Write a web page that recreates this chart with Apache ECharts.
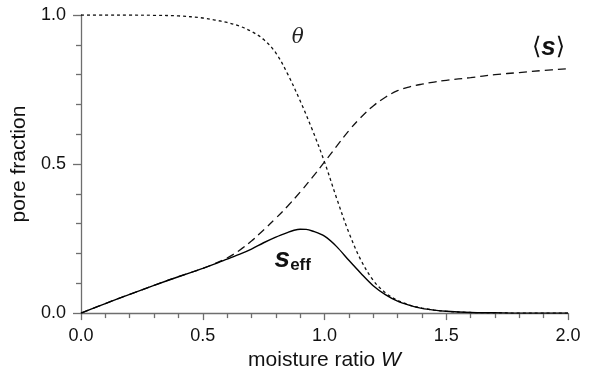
<!DOCTYPE html>
<html><head><meta charset="utf-8">
<script src="https://cdn.jsdelivr.net/npm/echarts@6/dist/echarts.min.js"></script>
<style>html,body{margin:0;padding:0;background:#fff}#c{width:590px;height:376px}</style>
</head><body><div id="c"></div>
<script>
var xTheta = [0,0.1,0.2,0.3,0.4,0.5,0.55,0.6,0.65,0.7,0.75,0.8,0.85,0.9,0.95,1.0,1.05,1.1,1.15,1.2,1.25,1.3,1.35,1.4,1.45,1.5,1.6,1.7,1.8,1.9,2.0];
var theta  = [1,1,1,0.999,0.997,0.99,0.983,0.975,0.963,0.945,0.918,0.873,0.80,0.712,0.615,0.507,0.385,0.27,0.177,0.11,0.068,0.043,0.027,0.017,0.010,0.006,0.002,0.001,0,0,0];
var xS = [0,0.05,0.1,0.15,0.2,0.25,0.3,0.35,0.4,0.45,0.5,0.55,0.6,0.65,0.7,0.75,0.8,0.85,0.9,0.95,1.0,1.05,1.1,1.15,1.2,1.25,1.3,1.35,1.4,1.45,1.5,1.6,1.7,1.8,1.9,2.0];
var sMean = [0,0.016,0.032,0.048,0.063,0.078,0.093,0.108,0.122,0.136,0.15,0.166,0.185,0.21,0.242,0.279,0.318,0.36,0.406,0.455,0.507,0.56,0.612,0.657,0.695,0.724,0.746,0.759,0.768,0.775,0.781,0.79,0.80,0.807,0.814,0.82];
var xEff = [0,0.1,0.2,0.3,0.4,0.5,0.55,0.6,0.65,0.7,0.75,0.8,0.85,0.875,0.9,0.925,0.95,1.0,1.05,1.1,1.15,1.2,1.25,1.3,1.35,1.4,1.45,1.5,1.6,1.7,1.8,1.9,2.0];
var sEff = [0,0.032,0.063,0.093,0.122,0.15,0.165,0.181,0.197,0.215,0.236,0.255,0.271,0.278,0.2815,0.281,0.2755,0.258,0.223,0.177,0.133,0.092,0.062,0.040,0.026,0.016,0.010,0.006,0.002,0.001,0,0,0];
var xTicks = ['0.0','0.5','1.0','1.5','2.0'];
var yTicks = ['0.0','0.5','1.0'];
var labels = [
  {name:'theta', x:0.89, y:0.925},
  {name:'smean', x:1.92, y:0.89},
  {name:'seff', x:0.795, y:0.18}
];

function pairs(xs, ys){ return xs.map(function(x,i){return [x, ys[i]];}); }
var FONT = '"Liberation Sans", Arial, sans-serif';
var axisCol = '#6e6e6e';
var chart = echarts.init(document.getElementById('c'));
chart.setOption({
  animation:false,
  backgroundColor:'#fff',
  grid:{left:81, right:22, top:15, bottom:59, containLabel:false},
  xAxis:{type:'value', min:0, max:2, interval:0.5,
    name:'moisture ratio {i|W}', nameLocation:'middle', nameGap:32,
    nameTextStyle:{fontFamily:FONT, fontSize:21, color:'#111', rich:{i:{fontFamily:FONT,fontSize:21,fontStyle:'italic',color:'#111'}}},
    axisLine:{lineStyle:{color:axisCol, width:1.3}},
    axisTick:{length:7, lineStyle:{color:axisCol, width:1.3}},
    minorTick:{show:true, splitNumber:5, length:5, lineStyle:{color:axisCol, width:1.3}},
    splitLine:{show:false},
    axisLabel:{fontFamily:FONT, fontSize:18, color:'#111', margin:14,
      formatter:function(v){ var i = Math.round(v/0.5); return xTicks[i]; }}
  },
  yAxis:{type:'value', min:0, max:1, interval:0.5,
    name:'pore fraction', nameLocation:'middle', nameGap:47,
    nameTextStyle:{fontFamily:FONT, fontSize:21, color:'#111'},
    axisLine:{show:true, lineStyle:{color:axisCol, width:1.3}},
    axisTick:{show:true, length:8, lineStyle:{color:axisCol, width:1.3}},
    minorTick:{show:true, splitNumber:5, length:5, lineStyle:{color:axisCol, width:1.3}},
    splitLine:{show:false},
    axisLabel:{fontFamily:FONT, fontSize:18, color:'#111', margin:15,
      formatter:function(v){ var i = Math.round(v/0.5); return yTicks[i]; }}
  },
  series:[
    {type:'line', data:pairs(xTheta, theta), showSymbol:false, smooth:0.35,
      lineStyle:{color:'#111', width:1.3, type:[3,3]}},
    {type:'line', data:pairs(xS, sMean), showSymbol:false, smooth:0.4,
      lineStyle:{color:'#111', width:1.3, type:[8,5]}},
    {type:'line', data:pairs(xEff, sEff), showSymbol:false, smooth:0.3,
      lineStyle:{color:'#000', width:1.4}}
  ]
});
function px(l){ return chart.convertToPixel({gridIndex:0}, [l.x, l.y]); }
var pT = px(labels[0]), pS = px(labels[1]), pE = px(labels[2]);
chart.setOption({graphic:[
  {type:'text', x:pT[0], y:pT[1], style:{text:'θ', font:'italic 20px "DejaVu Serif", "Liberation Serif", serif', fill:'#222', align:'center', verticalAlign:'middle'}},
  {type:'text', x:pS[0], y:pS[1], style:{text:'⟨{s|s}⟩', font:'24px "DejaVu Sans", sans-serif', fill:'#111', align:'center', verticalAlign:'middle',
    rich:{s:{font:'italic bold 26px "Liberation Sans", Arial, sans-serif', fill:'#111'}}}},
  {type:'text', x:pE[0], y:pE[1], style:{text:'{s|s}{e|eff}', align:'left', verticalAlign:'middle',
    rich:{s:{font:'italic bold 28px "Liberation Sans", Arial, sans-serif', fill:'#111', verticalAlign:'bottom'},
          e:{font:'bold 17px "Liberation Sans", Arial, sans-serif', fill:'#111', verticalAlign:'bottom', padding:[8,0,0,0]}}}}
]});
</script></body></html>
